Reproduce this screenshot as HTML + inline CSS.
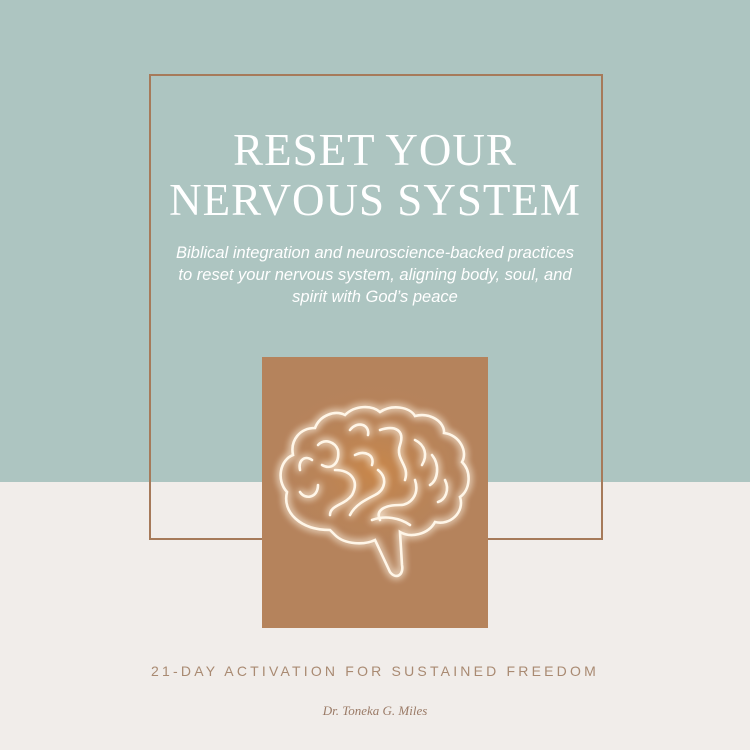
<!DOCTYPE html>
<html><head><style>
html,body{margin:0;padding:0}
body{width:750px;height:750px;position:relative;overflow:hidden;background:#f1edea;font-family:"Liberation Sans",sans-serif}
.top{position:absolute;left:0;top:0;width:750px;height:482px;background:#adc5c1}
.frame{position:absolute;left:149px;top:74px;width:450px;height:462px;border:2px solid #a67a5a}
.box{position:absolute;left:262px;top:357px;width:226px;height:271px;background:#b5835c}
.t{position:absolute;left:0;width:750px;text-align:center;color:#fff;font-family:"Liberation Serif",serif;font-size:45px;letter-spacing:1px;line-height:1}
.sub{position:absolute;left:140px;width:470px;top:242px;text-align:center;color:#fff;font-style:italic;font-size:16.5px;line-height:22px}
.act{position:absolute;left:0;width:750px;top:663px;text-align:center;color:#a98a72;font-size:14px;letter-spacing:3.2px}
.sig{position:absolute;left:0;width:750px;top:703px;text-align:center;color:#9a7a66;font-family:"Liberation Serif",serif;font-style:italic;font-size:13px}
</style></head><body>
<div class="top"></div>
<div class="frame"></div>
<div class="box"></div>
<div class="t" style="top:128px">RESET YOUR</div>
<div class="t" style="top:178px">NERVOUS SYSTEM</div>
<div class="sub">Biblical integration and neuroscience-backed practices<br>to reset your nervous system, aligning body, soul, and<br>spirit with God’s peace</div>
<svg style="position:absolute;left:262px;top:357px" width="226" height="271" viewBox="262 357 226 271">
<defs><filter id="g" x="-30%" y="-30%" width="160%" height="160%"><feGaussianBlur stdDeviation="4" result="b"/><feMerge><feMergeNode in="b"/><feMergeNode in="b"/><feMergeNode in="SourceGraphic"/></feMerge></filter>
<radialGradient id="rg" cx="50%" cy="45%" r="50%"><stop offset="0" stop-color="#d98a3a" stop-opacity=".55"/><stop offset="1" stop-color="#b5835c" stop-opacity="0"/></radialGradient></defs>
<ellipse cx="375" cy="480" rx="115" ry="95" fill="url(#rg)"/>
<g fill="none" stroke="#fff6e8" stroke-width="2.6" stroke-linecap="round" filter="url(#g)">
<path d="M330 530 C300 530 282 512 287 492 C276 480 280 460 293 455 C290 440 300 428 315 428 C320 415 335 410 345 415 C355 405 372 405 380 412 C392 404 410 407 415 416 C430 412 445 422 444 433 C460 435 468 452 462 462 C472 472 470 490 460 497 C465 512 450 526 435 522 C428 535 410 538 400 532 L402 565 C404 575 396 580 390 572 L375 540 C365 545 345 545 335 535 Z"/>
<path d="M300 470 C298 460 305 455 312 460"/>
<path d="M300 492 C305 500 318 498 318 485"/>
<path d="M318 445 C325 438 335 442 338 450 C340 465 330 470 322 465"/>
<path d="M335 470 C350 470 360 480 352 495 C345 505 330 505 330 515"/>
<path d="M350 430 C358 420 370 425 368 435"/>
<path d="M355 455 C365 450 375 455 372 465"/>
<path d="M380 430 C395 425 405 430 400 445 C395 460 410 465 405 480"/>
<path d="M378 470 C388 478 385 490 375 495 C365 500 355 505 350 515"/>
<path d="M415 440 C425 445 428 455 422 465"/>
<path d="M432 455 C440 465 438 480 430 485"/>
<path d="M415 480 C420 495 410 505 400 505 C385 505 375 510 380 520"/>
<path d="M445 480 C450 490 445 500 438 502"/>
<path d="M372 520 C385 515 400 518 410 525"/>
</g></svg>
<div class="act">21-DAY ACTIVATION FOR SUSTAINED FREEDOM</div>
<div class="sig">Dr. Toneka G. Miles</div>
</body></html>
